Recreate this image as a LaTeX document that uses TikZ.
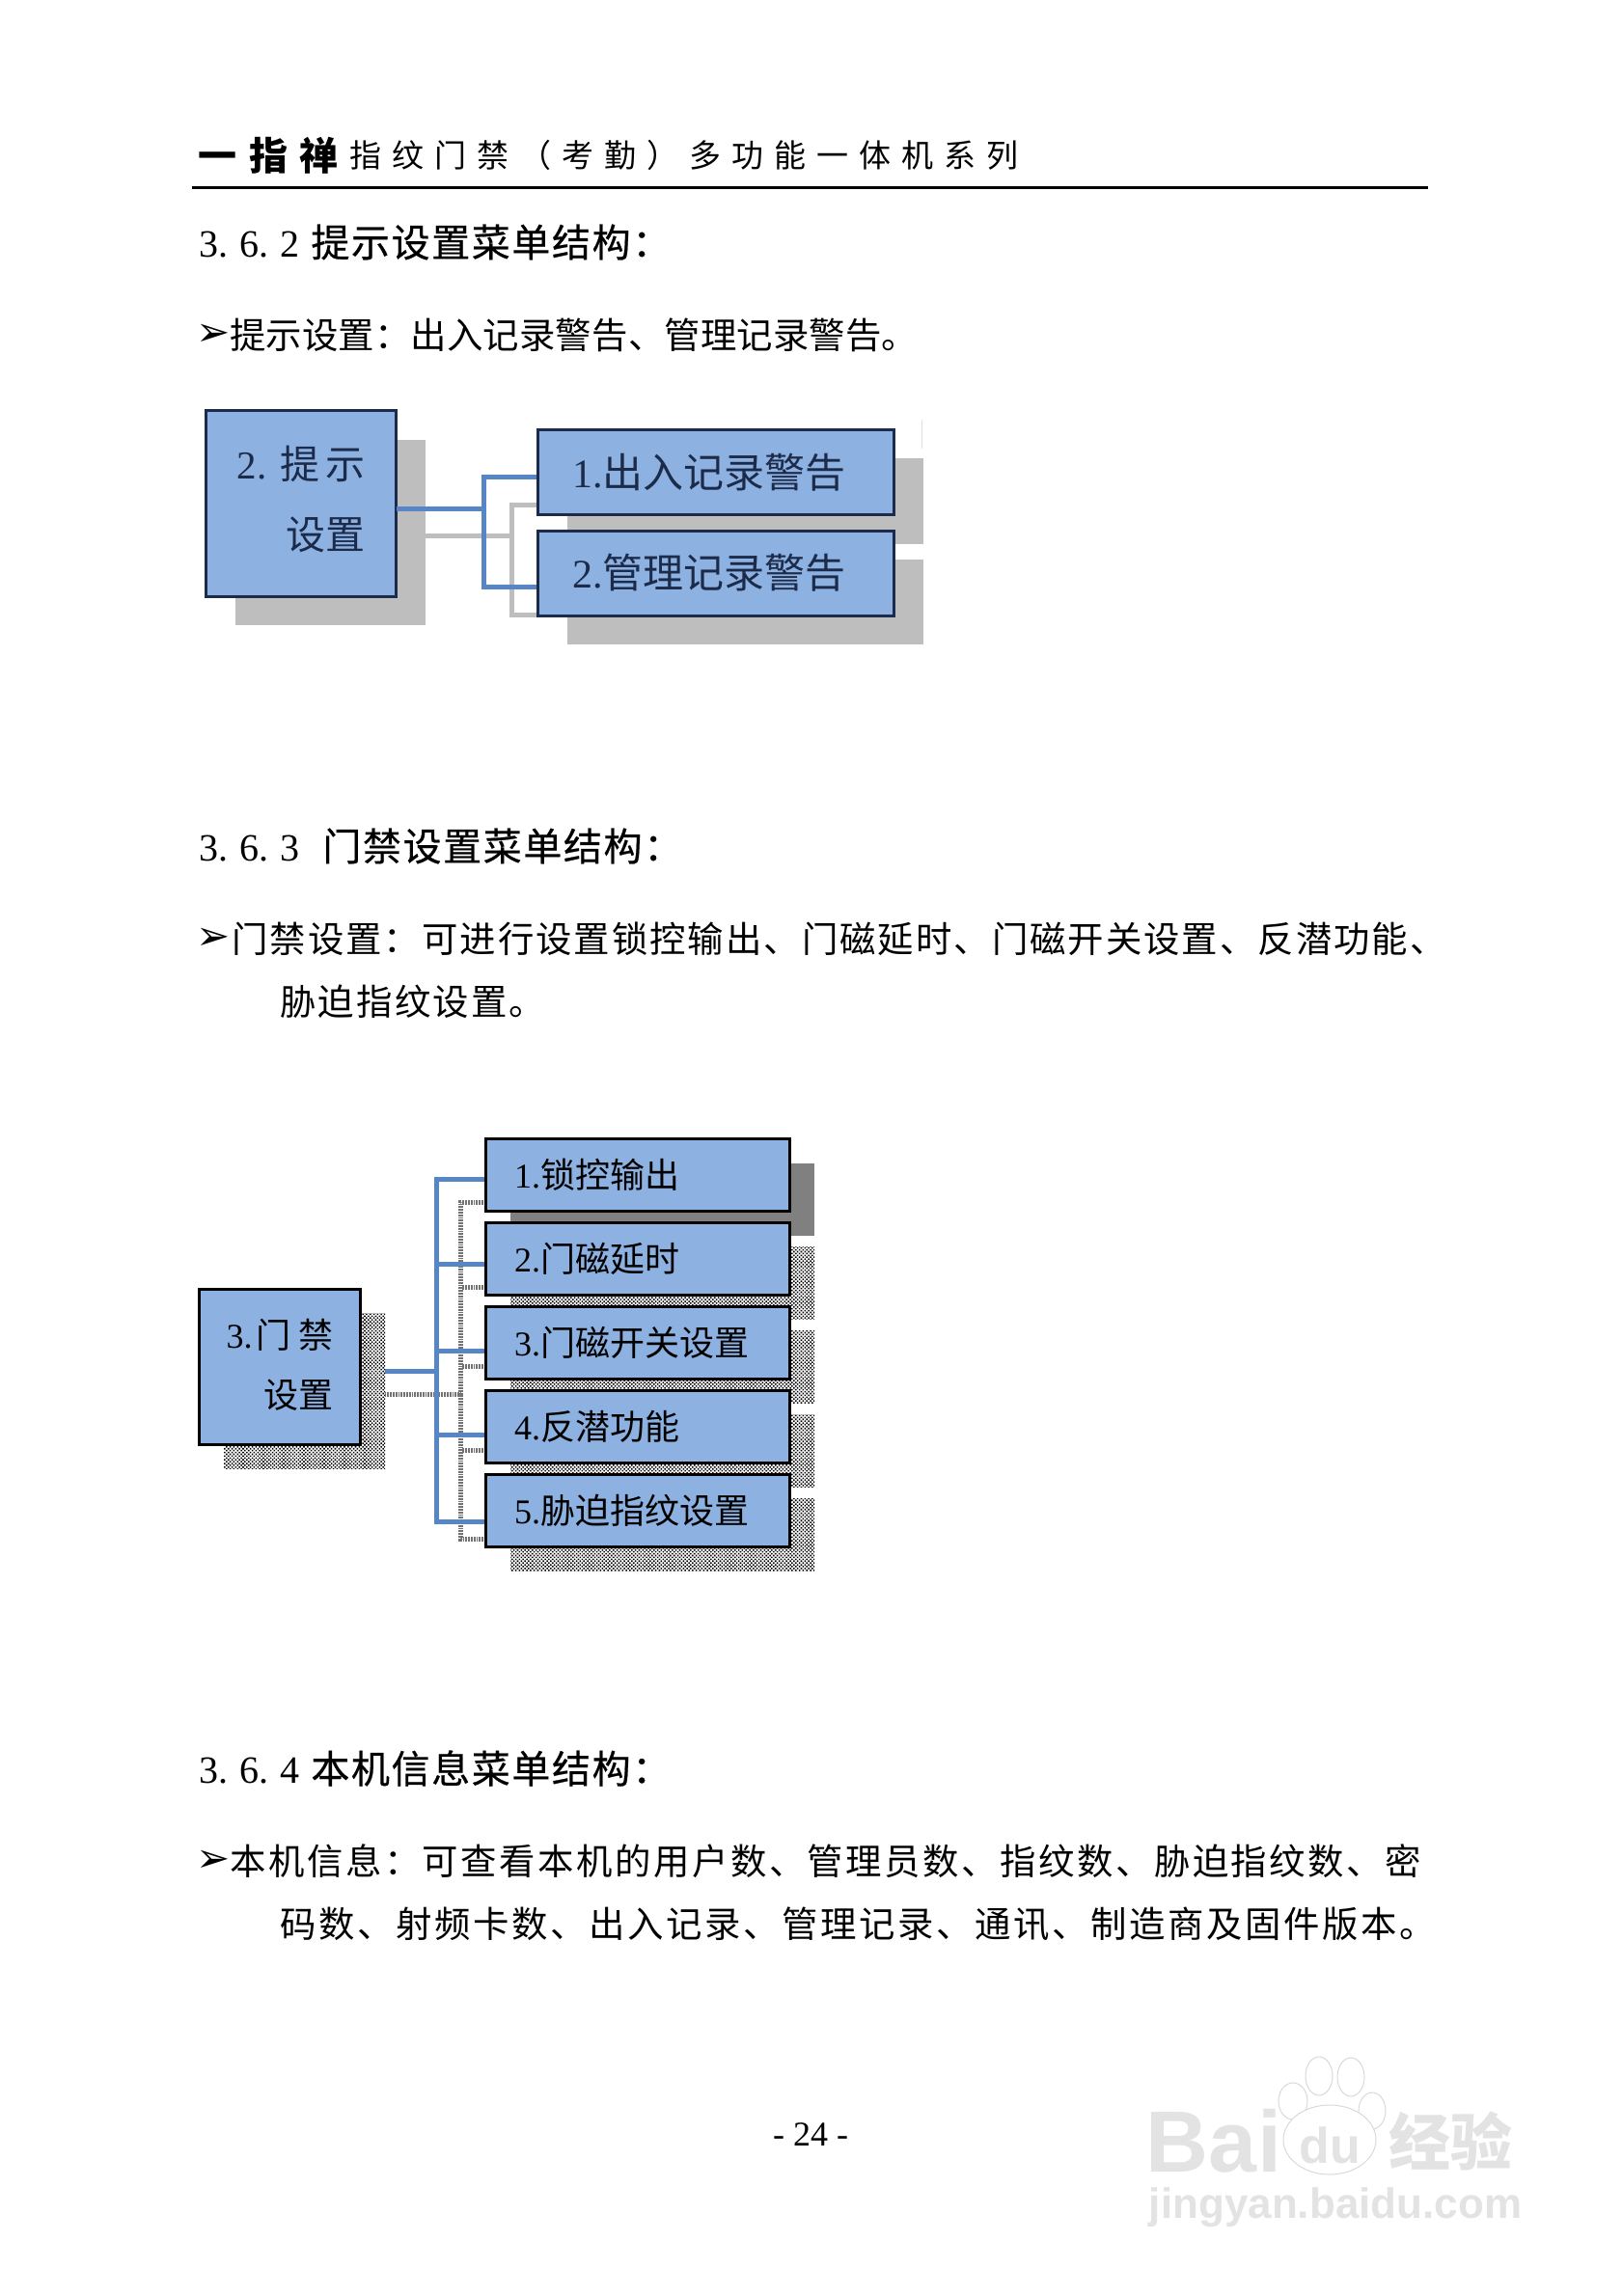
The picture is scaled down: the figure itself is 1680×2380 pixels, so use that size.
\documentclass[tikz,border=0pt]{standalone}
\usepackage{fontspec}
\setmainfont{Liberation Serif}
\setsansfont{Liberation Sans}
\newfontfamily\cjk{Noto Sans CJK SC}
\newfontfamily\cjkhead[FakeBold=0.5,LetterSpace=4]{Noto Sans CJK SC}
\newfontfamily\symfont{DejaVu Sans}
\usetikzlibrary{shadows, patterns.meta, positioning, backgrounds}
\definecolor{boxblue}{HTML}{8DB1E1}
\definecolor{linkblue}{HTML}{5686C6}
\definecolor{navy}{HTML}{1C2B4A}
\definecolor{softgray}{HTML}{BEBEBE}
\newcommand{\zh}[1]{{\cjk #1}}
\newcommand{\fsize}[1]{\fontsize{#1}{#1}\selectfont}

\begin{document}
\begin{tikzpicture}[
        x=0.5pt, y=-0.5pt,
        node distance=6pt,
        % text lines of the page
        pagetext/.style={anchor=west, inner sep=0pt, font=\fsize{18.7}},
        bullet/.style={anchor=west, inner sep=0pt, font=\fsize{21}},
        heading/.style={anchor=west, inner sep=0pt, font=\fsize{20}},
        headline/.style={anchor=west, inner sep=0pt, font=\fsize{16.5}},
        % the upper diagram
        softshadow/.style={general shadow={shadow xshift=15pt, shadow yshift=-15pt, fill=softgray}},
        hintbox/.style={rectangle, draw=navy, line width=1.5pt, fill=boxblue, outer sep=0pt, softshadow, text=navy},
        alertbox/.style={hintbox, minimum width=184.5pt, minimum height=44pt, text width=149pt, inner xsep=17.75pt, align=left, font=\fsize{21}},
        % the lower diagram
        ditherfill/.style={pattern={Dots[distance=1.35pt, radius=.55pt, angle=45]}, pattern color=black},
        dithershadow/.style={general shadow={shadow xshift=12.75pt, shadow yshift=-12.5pt, ditherfill}},
        solidshadow/.style={general shadow={shadow xshift=12.75pt, shadow yshift=-12.5pt, fill=black!50}},
        menubox/.style={rectangle, draw=black, line width=1.5pt, fill=boxblue, outer sep=0pt, minimum width=157.5pt, minimum height=37.5pt, text width=128pt, inner xsep=14.75pt, align=left, font=\fsize{18}},
        % connectors
        bluelink/.style={draw=linkblue, line width=2.5pt},
        softlink/.style={draw=softgray, line width=2.5pt},
        ditherlink/.style={draw=black!55, line width=2.5pt, dash pattern=on .9pt off .5pt},
        % the stamp in the corner
        stamp/.style={inner sep=0pt, text=black!11},
        paw/.style={draw=black!15, fill=white, line width=.5pt}
    ]
    \useasboundingbox (0,0) rectangle (1680,2380);

    % --- PAGE HEAD ---
    \node (brand) [headline, font=\fsize{20}] at (205,161) {\cjk\bfseries\addfontfeature{LetterSpace=32}一指禅};
    \node (title) [headline] at (362,161) {\cjk\addfontfeature{LetterSpace=33.3}指纹门禁（考勤）多功能一体机系列};
    \draw [line width=1.5pt] (199,194.5) -- (1480,194.5);

    % --- SECTION 3.6.2 ---
    \node (head1) [heading] at (206,251) {3.\kern6pt 6.\kern6pt 2\kern6pt{\cjkhead 提示设置菜单结构：}};
    \node (mark1) [bullet] at (203,347) {\symfont ➢};
    \node (line1) [pagetext] at (238,347) {\cjk\addfontfeature{LetterSpace=.3}提示设置：出入记录警告、管理记录警告。};

    \node (hint) [hintbox, minimum width=98.5pt, minimum height=96pt, align=right, text depth=6pt, font=\fsize{20.5}] at (312,522) {2. \zh{提}\kern3pt\zh{示}\\[16pt]\zh{设置}};
    \node (alert1) [alertbox] at (742,489.5) {1.\zh{出入记录警告}};
    \node (alert2) [alertbox, below=8.25pt of alert1] {2.\zh{管理记录警告}};
    \draw [black!12, line width=.5pt] (955,435) -- (955,465);

    \begin{scope}[on background layer]
        \coordinate (softbus) at (530,555);
        \coordinate (hintbus) at (501,527);
        \draw [softlink] ([yshift=-16.5pt]hint.east) -- (softbus);
        \draw [softlink] ([yshift=-16.75pt]alert1.west) -| (softbus) |- ([yshift=-21.5pt]alert2.west);
        \draw [bluelink] ([yshift=-2.5pt]alert1.west) -| (hintbus) |- ([yshift=-7.25pt]alert2.west);
    \end{scope}
    \draw [bluelink] ([yshift=-2.5pt]hint.east) -- (hintbus);

    % --- SECTION 3.6.3 ---
    \node (head2) [heading] at (206,877) {3.\kern6pt 6.\kern6pt 3\kern12pt{\cjkhead 门禁设置菜单结构：}};
    \node (mark2) [bullet] at (203,973) {\symfont ➢};
    \node (line2) [pagetext] at (240,973) {\cjk\addfontfeature{LetterSpace=5.3}门禁设置：可进行设置锁控输出、门磁延时、门磁开关设置、反潜功能、};
    \node (line3) [pagetext] at (290,1038) {\cjk\addfontfeature{LetterSpace=5.8}胁迫指纹设置。};

    \node (door) [menubox, dithershadow, minimum width=83.5pt, minimum height=80.5pt, text width=, inner xsep=0pt, align=right, text depth=4pt] at (290,1417) {3.\kern2pt\zh{门}\kern4pt\zh{禁}\\[13pt]\zh{设置}};
    \node (menu1) [menubox, solidshadow] at (661,1218) {1.\zh{锁控输出}};
    \node (menu2) [menubox, dithershadow, below=of menu1] {2.\zh{门磁延时}};
    \node (menu3) [menubox, dithershadow, below=of menu2] {3.\zh{门磁开关设置}};
    \node (menu4) [menubox, dithershadow, below=of menu3] {4.\zh{反潜功能}};
    \node (menu5) [menubox, dithershadow, below=of menu4] {5.\zh{胁迫指纹设置}};

    \begin{scope}[on background layer]
        \coordinate (ditherbus) at (477,1445);
        \coordinate (doorbus) at (452,1421);
        \draw [ditherlink] ([xshift=12.5pt,yshift=-14pt]door.east) -- (ditherbus);
        \draw [ditherlink] ([yshift=-14pt]menu1.west) -| (ditherbus) |- ([yshift=-14.5pt]menu5.west);
        \draw [ditherlink] ([yshift=-14.5pt]menu2.west) -- ++(-25,0);
        \draw [ditherlink] ([yshift=-12pt]menu3.west) -- ++(-25,0);
        \draw [ditherlink] ([yshift=-12pt]menu4.west) -- ++(-25,0);
        \draw [bluelink] ([xshift=12.5pt,yshift=-2pt]door.east) -- (doorbus);
        \draw [bluelink] ([yshift=-2pt]menu1.west) -| (doorbus) |- ([yshift=-5.5pt]menu5.west);
        \draw [bluelink] ([yshift=-2.5pt]menu2.west) -- ++(-50,0);
        \draw [bluelink] ([yshift=-4pt]menu3.west) -- ++(-50,0);
        \draw [bluelink] ([yshift=-4pt]menu4.west) -- ++(-50,0);
    \end{scope}

    % --- SECTION 3.6.4 ---
    \node (head3) [heading] at (206,1833) {3.\kern6pt 6.\kern6pt 4\kern6pt{\cjkhead 本机信息菜单结构：}};
    \node (mark3) [bullet] at (203,1929) {\symfont ➢};
    \node (line4) [pagetext] at (238,1929) {\cjk\addfontfeature{LetterSpace=6.7}本机信息：可查看本机的用户数、管理员数、指纹数、胁迫指纹数、密};
    \node (line5) [pagetext] at (290,1994) {\cjk\addfontfeature{LetterSpace=7}码数、射频卡数、出入记录、管理记录、通讯、制造商及固件版本。};

    \node (pageno) [inner sep=0pt, font=\fsize{18}] at (840,2213) {- 24 -};

    % --- CORNER STAMP ---
    \draw [paw] (1367,2152) ellipse [x radius=14, y radius=20];
    \draw [paw] (1400,2153) ellipse [x radius=14, y radius=20];
    \draw [paw] (1340,2178) ellipse [x radius=15, y radius=19];
    \draw [paw] (1422,2188) ellipse [x radius=14, y radius=19];
    \draw [paw] (1378,2218) ellipse [x radius=48, y radius=36];
    \node (stampa) [stamp, font=\sffamily\bfseries\fsize{45}] at (1258,2219) {Bai};
    \node (stampb) [stamp, font=\sffamily\bfseries\fsize{26}] at (1378,2224) {du};
    \node (stampc) [stamp, font=\fsize{32}] at (1503,2219) {\cjk\bfseries 经验};
    \node (stampd) [stamp, font=\sffamily\bfseries\fsize{22}] at (1384,2288) {jingyan.baidu.com};
\end{tikzpicture}
\end{document}
